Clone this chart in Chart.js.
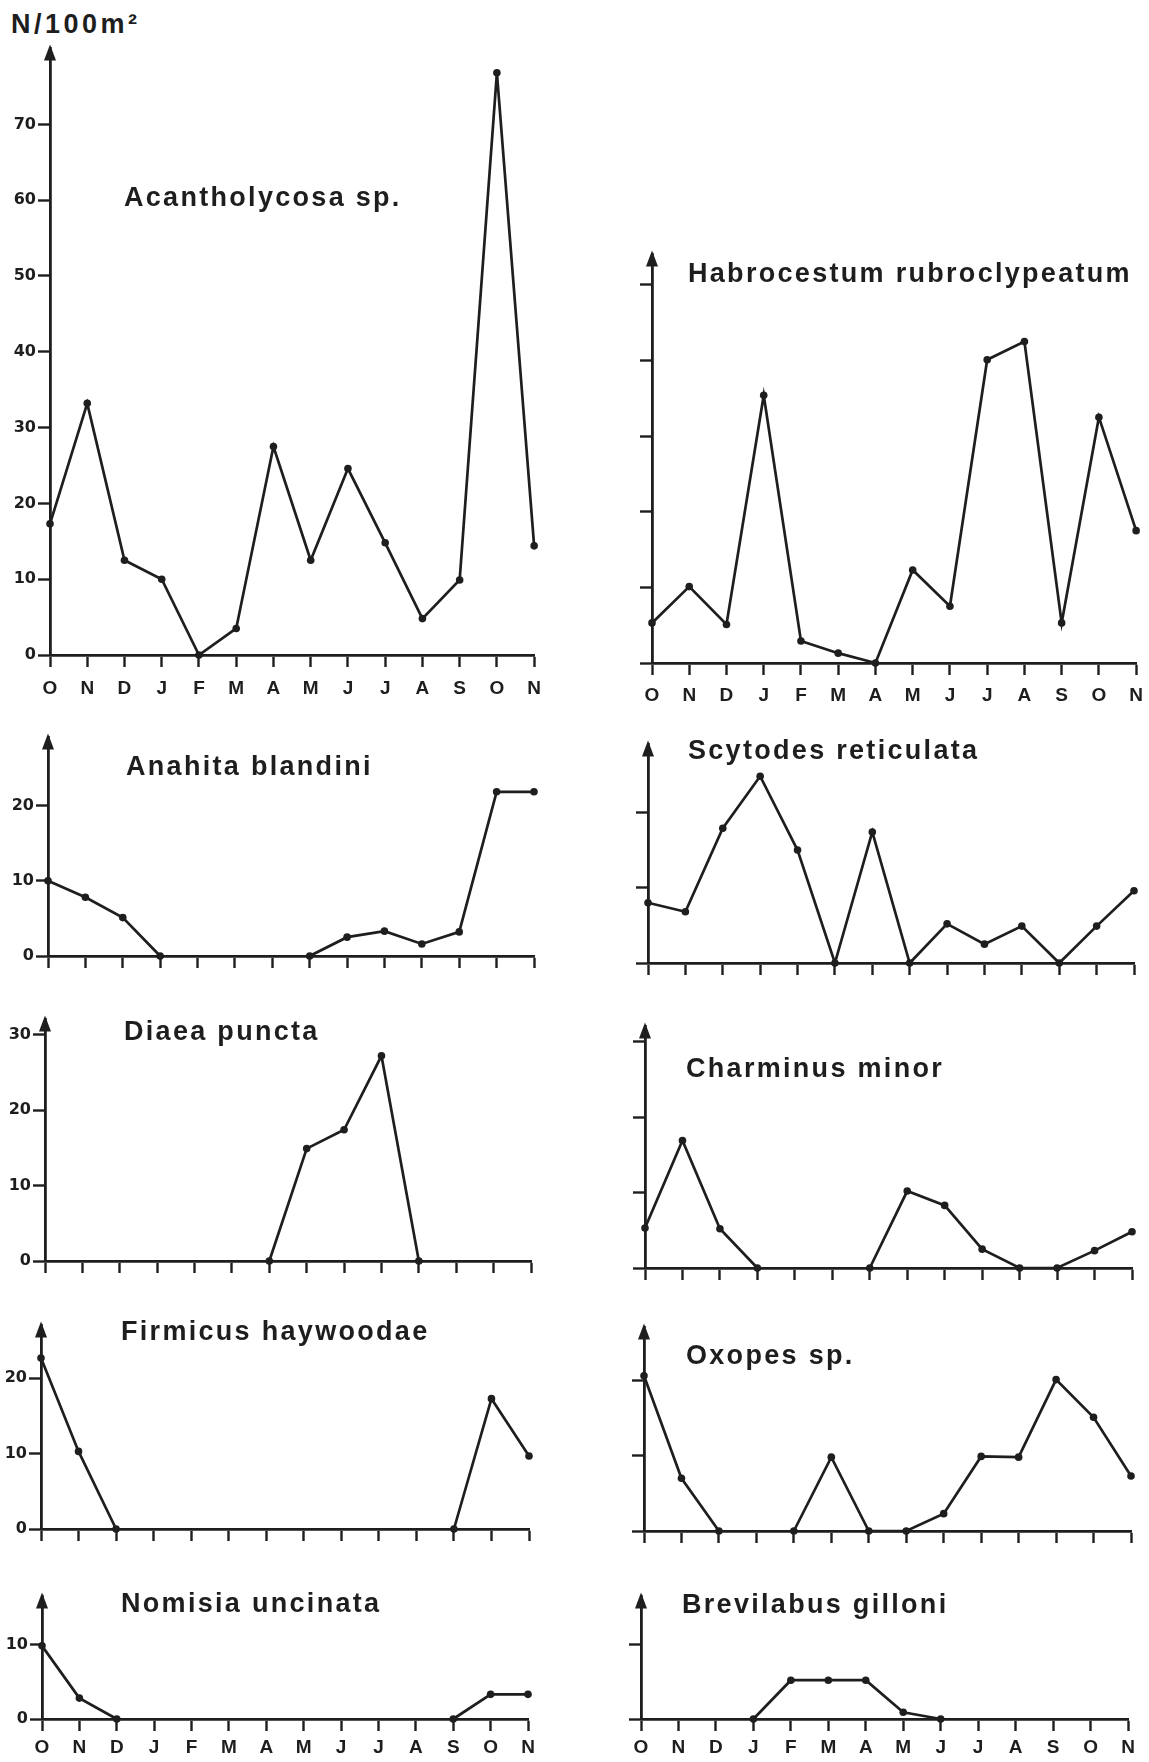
<!DOCTYPE html>
<html>
<head>
<meta charset="utf-8">
<script src="https://cdn.jsdelivr.net/npm/chart.js@4.4.0/dist/chart.umd.min.js"></script>
<style>
  body { margin: 0; background: #fff; width: 1149px; height: 1762px; position: relative; overflow: hidden; font-family: 'Liberation Sans', Arial, sans-serif; }
  canvas { position: absolute; }
  .t { position: absolute; font-weight: bold; font-size: 27px; letter-spacing: 2.3px; color: #1e1e1e; white-space: nowrap; line-height: 1; }
</style>
</head>
<body>
<div class="t" style="left:11px;top:11px;letter-spacing:3.5px">N/100m²</div>
<script>
// mois (octobre -> novembre de l'année suivante)
const months = ['O', 'N', 'D', 'J', 'F', 'M', 'A', 'M', 'J', 'J', 'A', 'S', 'O', 'N'];

// densités (N/100 m²)
const acantholycosa = [17.3, 33.2, 12.5, 10, 0, 3.5, 27.5, 12.5, 24.6, 14.8, 4.8, 9.9, 76.8, 14.4];
const habrocestum = [5.3, 10.1, 5.1, 35.4, 2.9, 1.3, 0, 12.3, 7.5, 40.1, 42.5, 5.3, 32.5, 17.5];
const anahita = [10, 7.8, 5.1, 0, null, null, null, 0, 2.5, 3.3, 1.6, 3.2, 21.8, 21.8];
const scytodes = [8.0, 6.8, 17.9, 24.8, 15.0, 0, 17.4, 0, 5.2, 2.5, 4.9, 0, 4.9, 9.6];
const diaea = [null, null, null, null, null, null, 0, 14.9, 17.4, 27.2, 0, null, null, null];
const charminus = [5.3, 16.9, 5.2, 0, null, null, 0, 10.2, 8.3, 2.5, 0, 0, 2.3, 4.8];
const firmicus = [22.7, 10.3, 0, null, null, null, null, null, null, null, null, 0, 17.3, 9.7];
const oxopes = [20.6, 7.0, 0, null, 0, 9.8, 0, 0, 2.3, 9.9, 9.8, 20.1, 15.1, 7.3];
const nomisia = [9.8, 2.8, 0, null, null, null, null, null, null, null, null, 0, 3.3, 3.3];
const brevilabus = [null, null, null, 0, 5.2, 5.2, 5.2, 0.9, 0, null, null, null, null, null];

// graduations de l'axe vertical
const ticks80 = [0, 10, 20, 30, 40, 50, 60, 70];
const ticks50 = [0, 10, 20, 30, 40, 50];
const ticks30 = [0, 10, 20, 30];
const ticks20 = [0, 10, 20];
const ticks10 = [0, 10];

const ink = '#1e1e1e';
const padL = 60, padT = 10, padR = 15, padB = 45;

// position de chaque panneau : axe Y, zéro, bout de l'axe X, titre
const panels = [
  { title: 'Acantholycosa sp.', data: acantholycosa, ticks: ticks80, yMax: 80, ax: 50, x1: 536, zero: 655, showY: true, showX: true, lp: 10, tx: 124, ty: 197 },
  { title: 'Habrocestum rubroclypeatum', data: habrocestum, ticks: ticks50, yMax: 54, ax: 652, x1: 1137, zero: 663, showY: false, showX: true, lp: 9, tx: 688, ty: 273 },
  { title: 'Anahita blandini', data: anahita, ticks: ticks20, yMax: 29, ax: 48, x1: 534, zero: 956, showY: true, showX: false, lp: 8, tx: 126, ty: 766 },
  { title: 'Scytodes reticulata', data: scytodes, ticks: ticks20, yMax: 29, ax: 648, x1: 1134, zero: 963, showY: false, showX: false, lp: 8, tx: 688, ty: 750 },
  { title: 'Diaea puncta', data: diaea, ticks: ticks30, yMax: 32, ax: 45, x1: 531, zero: 1261, showY: true, showX: false, lp: 8, tx: 124, ty: 1031 },
  { title: 'Charminus minor', data: charminus, ticks: ticks30, yMax: 32, ax: 645, x1: 1132, zero: 1268, showY: false, showX: false, lp: 8, tx: 686, ty: 1068 },
  { title: 'Firmicus haywoodae', data: firmicus, ticks: ticks20, yMax: 27, ax: 41, x1: 529, zero: 1529, showY: true, showX: false, lp: 8, tx: 121, ty: 1331 },
  { title: 'Oxopes sp.', data: oxopes, ticks: ticks20, yMax: 27, ax: 644, x1: 1131, zero: 1531, showY: false, showX: false, lp: 8, tx: 686, ty: 1355 },
  { title: 'Nomisia uncinata', data: nomisia, ticks: ticks10, yMax: 16.4, ax: 42, x1: 528, zero: 1720, showY: true, showX: true, lp: 5, tx: 121, ty: 1603 },
  { title: 'Brevilabus gilloni', data: brevilabus, ticks: ticks10, yMax: 16.4, ax: 641, x1: 1128, zero: 1720, showY: false, showX: true, lp: 5, tx: 682, ty: 1604 }
];
const pxPerUnit = 7.6;

// flèche au sommet de l'axe vertical
const arrowPlugin = {
  id: 'arrow',
  afterDraw(chart) {
    const ctx = chart.ctx;
    const x = chart.chartArea.left, y = chart.chartArea.top;
    ctx.save();
    ctx.fillStyle = ink;
    ctx.beginPath();
    ctx.moveTo(x, y - 4);
    ctx.lineTo(x - 6, y + 12);
    ctx.lineTo(x + 6, y + 12);
    ctx.closePath();
    ctx.fill();
    ctx.restore();
  }
};

panels.forEach(p => {
  const top = p.zero - p.yMax * pxPerUnit;
  const canvas = document.createElement('canvas');
  canvas.width = p.x1 - p.ax + padL + padR;
  canvas.height = p.zero - top + padT + padB;
  canvas.style.left = (p.ax - padL) + 'px';
  canvas.style.top = (top - padT) + 'px';
  document.body.appendChild(canvas);

  const title = document.createElement('div');
  title.className = 't';
  title.textContent = p.title;
  title.style.left = p.tx + 'px';
  title.style.top = (p.ty - 13) + 'px';
  document.body.appendChild(title);

  new Chart(canvas.getContext('2d'), {
    type: 'line',
    data: {
      labels: months,
      datasets: [{
        data: p.data,
        borderColor: ink,
        borderWidth: 2.7,
        pointRadius: 3.8,
        pointBackgroundColor: ink,
        pointBorderWidth: 0,
        tension: 0,
        spanGaps: false,
        clip: false
      }]
    },
    options: {
      responsive: false,
      animation: false,
      devicePixelRatio: 1,
      layout: { padding: { top: padT, right: padR, left: 0, bottom: 0 } },
      plugins: { legend: { display: false }, tooltip: { enabled: false } },
      scales: {
        x: {
          type: 'category',
          offset: false,
          grid: { display: true, drawOnChartArea: false, drawTicks: true, tickLength: 12, tickColor: ink, tickWidth: 2.4 },
          border: { display: true, color: ink, width: 2.8 },
          ticks: {
            autoSkip: false, maxRotation: 0, padding: p.lp, color: ink,
            font: { family: "'Liberation Sans', Arial, sans-serif", size: 19, weight: 'bold' },
            callback: function (v, i) { return p.showX ? months[i] : ''; }
          },
          afterFit: s => { s.height = padB; }
        },
        y: {
          min: 0,
          max: p.yMax,
          afterBuildTicks: s => { s.ticks = p.ticks.map(v => ({ value: v })); },
          grid: { display: true, drawOnChartArea: false, drawTicks: true, tickLength: 12, tickColor: ink, tickWidth: 2.4 },
          border: { display: true, color: ink, width: 2.8 },
          ticks: {
            padding: 2, color: ink,
            font: { family: "'DejaVu Sans', sans-serif", size: 16, weight: 'bold' },
            callback: v => p.showY ? String(v) : ''
          },
          afterFit: s => { s.width = padL; }
        }
      }
    },
    plugins: [arrowPlugin]
  });
});
</script>
</body>
</html>
